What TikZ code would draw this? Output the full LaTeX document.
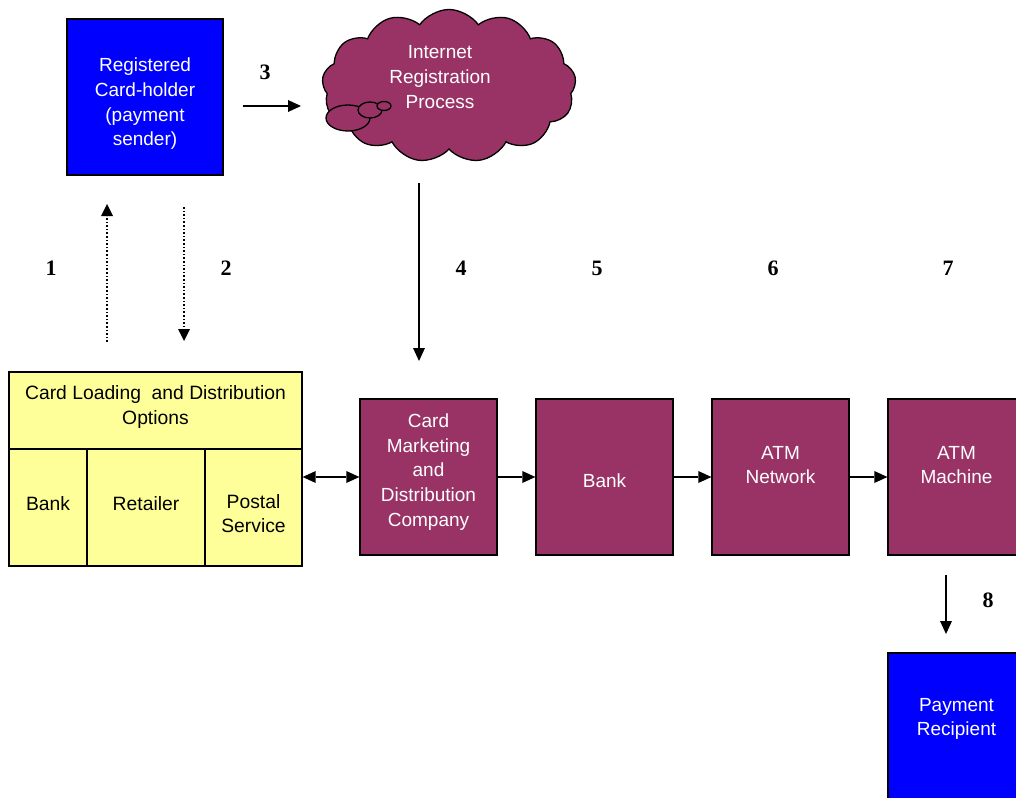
\documentclass[tikz,border=0pt]{standalone}
\usepackage{fontspec}
\setmainfont{Liberation Sans}
\newfontfamily\numfont{Liberation Serif}
\usetikzlibrary{shapes.symbols,arrows.meta}
\definecolor{cblue}{HTML}{0000FF}
\definecolor{cpurple}{HTML}{993366}
\definecolor{cyellow}{HTML}{FFFF99}
\begin{document}
\begin{tikzpicture}[x=1pt,y=-1pt,
  box/.style={draw=black,line width=1.3pt,minimum width=137pt,minimum height=156pt,inner sep=0pt},
  bluebox/.style={box,fill=cblue,minimum width=156pt},
  purplebox/.style={box,fill=cpurple},
  ybox/.style={draw=black,line width=1.3pt,fill=cyellow,inner sep=0pt},
  wt/.style={align=center,text=white,inner sep=0pt,font=\fontsize{19}{24.7}\selectfont},
  bt/.style={align=center,text=black,inner sep=0pt,font=\fontsize{19.3}{24.5}\selectfont},
  num/.style={font=\numfont\bfseries\fontsize{22}{22}\selectfont},
  tip/.style={Triangle[length=13pt,width=12pt,line width=0pt]},
  arr/.style={line width=1.4pt,-{Triangle[length=13pt,width=12pt,line width=0pt]}},
  darr/.style={line width=1.4pt,{Triangle[length=13pt,width=12pt,line width=0pt]}-{Triangle[length=13pt,width=12pt,line width=0pt]}},
  dotarr/.style={line width=1.6pt,dash pattern=on 1.6pt off 2pt,-{Triangle[length=12pt,width=12pt,line width=0pt]}},
  bubble/.style={line width=1.3pt,draw=black,fill=cpurple}]
\useasboundingbox (0,0) rectangle (1016,797);
% top-left card-holder
\node[bluebox] (holder) at (145,97) {};
\node[wt] (holdertxt) at (145,104) {Registered\\Card-holder\\(payment\\sender)};
% cloud
\node[cloud,cloud puffs=13,cloud puff arc=110,aspect=1.7,draw=black,line width=1.3pt,fill=cpurple,minimum width=254pt,minimum height=153pt] (cloud) at (449,86) {};
\draw[bubble] (348,118) ellipse (22 and 13);
\draw[bubble] (370,110) ellipse (12 and 8);
\draw[bubble] (384,106) ellipse (7 and 4.5);
\node[wt] (cloudtxt) at (440,77) {Internet\\Registration\\Process};
% yellow options box
\node[ybox,minimum width=293pt,minimum height=77pt] (opts) at (155.5,410.5) {};
\node[ybox,minimum width=78pt,minimum height=117pt] (ybank) at (48,507.5) {};
\node[ybox,minimum width=118pt,minimum height=117pt] (yret) at (146,507.5) {};
\node[ybox,minimum width=97pt,minimum height=117pt] (ypost) at (253.5,507.5) {};
\node[bt] (optstxt) at (155.5,407) {Card Loading\ \ and Distribution\\Options};
\node[bt] (ybanktxt) at (48,504) {Bank};
\node[bt] (yrettxt) at (146,504) {Retailer};
\node[bt] (yposttxt) at (253.5,513.5) {Postal\\Service};
% purple chain
\node[purplebox] (cmdc) at (428.5,477) {};
\node[purplebox] (bank) at (604.5,477) {};
\node[purplebox] (atmn) at (780.5,477) {};
\node[purplebox] (atmm) at (956.5,477) {};
\node[wt] (cmdctxt) at (428.5,472) {Card\\Marketing\\and\\Distribution\\Company};
\node[wt] (banktxt) at (604.5,481) {Bank};
\node[wt] (atmntxt) at (780.5,465) {ATM\\Network};
\node[wt] (atmmtxt) at (956.5,465) {ATM\\Machine};
\node[bluebox,minimum width=137pt] (recip) at (956.5,731) {};
\node[wt] (reciptxt) at (956.5,719) {Payment\\Recipient};
% labels
\node[num] (n1) at (51,268) {1};
\node[num] (n2) at (226,268) {2};
\node[num] (n3) at (265,72) {3};
\node[num] (n4) at (461,268) {4};
\node[num] (n5) at (597,268) {5};
\node[num] (n6) at (773,268) {6};
\node[num] (n7) at (948,268) {7};
\node[num] (n8) at (988,600) {8};
% connector end points
\coordinate (a3s) at (243,106);
\coordinate (a3e) at (301,106);
\coordinate (a4s) at (419,183);
\coordinate (a4e) at (419,361);
\coordinate (d1s) at (107,342);
\coordinate (d1e) at (107,204);
\coordinate (d2s) at (184,207);
\coordinate (d2e) at (184,341);
\coordinate (a8s) at (946,575);
\coordinate (a8e) at (946,634);
% connectors
\draw[arr] (a3s) -- (a3e);
\draw[arr] (a4s) -- (a4e);
\draw[dotarr] (d1s) -- (d1e);
\draw[dotarr] (d2s) -- (d2e);
\draw[darr] (ypost.east |- cmdc.west) -- (cmdc.west);
\draw[arr] (cmdc) -- (bank);
\draw[arr] (bank) -- (atmn);
\draw[arr] (atmn) -- (atmm);
\draw[arr] (a8s) -- (a8e);
\end{tikzpicture}
\end{document}
